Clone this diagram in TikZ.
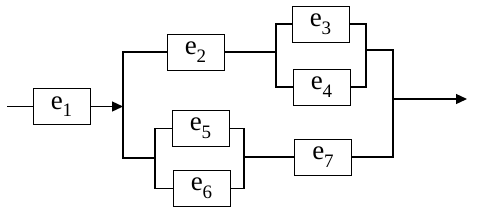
\documentclass[tikz,border=0pt]{standalone}
\usepackage{fontspec}
\setmainfont{Liberation Serif}
\usetikzlibrary{arrows.meta}
\newcommand{\elem}[1]{e\raisebox{-0.28em}{\fontsize{19}{19}\selectfont #1}}
\tikzset{
	ebox/.style={
		draw=black,
		line width=0.9pt,
		minimum width=57pt,
		minimum height=36pt,
		inner sep=0pt,
		font=\fontsize{27}{30}\selectfont
	},
	wire/.style={line width=1.3pt, black},
	earr/.style={wire, -{Triangle[length=11pt, width=10pt]}}
}
\begin{document}
\begin{tikzpicture}[x=1pt, y=-1pt]
		\useasboundingbox (0,0) rectangle (478,218);
		\node[ebox] (e1) at (61.5,106.5) {\elem{1}};
		\node[ebox] (e2) at (195.5,52) {\elem{2}};
		\node[ebox] (e3) at (320.5,24) {\elem{3}};
		\node[ebox] (e4) at (321.5,87) {\elem{4}};
		\node[ebox] (e5) at (200.5,128.5) {\elem{5}};
		\node[ebox] (e6) at (201.5,188.5) {\elem{6}};
		\node[ebox] (e7) at (323,157) {\elem{7}};
		% junction points
		\coordinate (in) at (7,106.5);
		\coordinate (sa) at (123,106.5);
		\coordinate (b1) at (155,158);
		\coordinate (b2) at (244,157);
		\coordinate (c1) at (276,52);
		\coordinate (c2) at (366,50);
		\coordinate (d1) at (393,50);
		\coordinate (dm) at (393,99);
		\coordinate (out) at (467,99);
		\draw[wire] (in) -- (e1.west);
		\draw[earr] (e1.east) -- (sa);
		\draw[wire] (e2.west) -| (sa) |- (b1);
		\draw[wire] (e5.west) -| (b1) |- (e6.west);
		\draw[wire] (e5.east) -| (b2) |- (e6.east);
		\draw[wire] (b2) -- (e7.west);
		\draw[wire] (e2.east) -- (c1);
		\draw[wire] (e3.west) -| (c1) |- (e4.west);
		\draw[wire] (e3.east) -| (c2) |- (e4.east);
		\draw[wire] (c2) -- (d1) |- (e7.east);
		\draw[earr] (dm) -- (out);
	\end{tikzpicture}
\end{document}
